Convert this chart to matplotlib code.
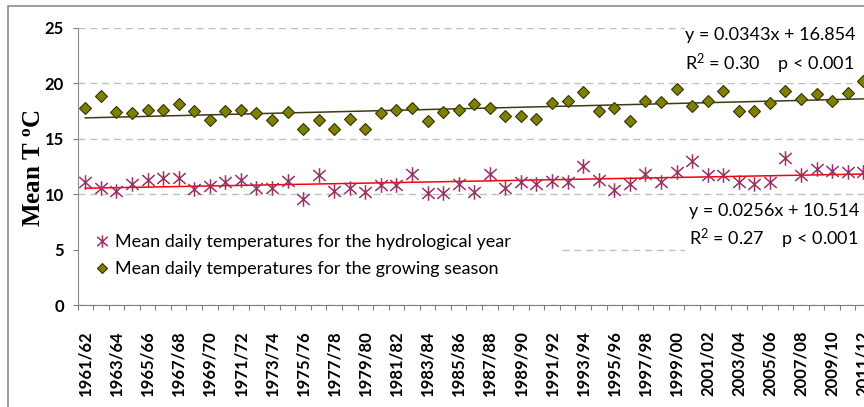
import numpy as np
import matplotlib
matplotlib.use('Agg')
import matplotlib.pyplot as plt
from matplotlib.path import Path
from matplotlib.patches import Rectangle

plt.rcParams['font.family'] = ['Lato', 'DejaVu Sans']
plt.rcParams['mathtext.default'] = 'regular'

# hydrological seasons 1961/62 .. 2011/12
seasons = ['%d/%02d' % (y, (y + 1) % 100) for y in range(1961, 2012)]

hydro_year = [11.1, 10.6, 10.3, 10.9, 11.3, 11.5, 11.5, 10.5, 10.7, 11.1,
              11.3, 10.6, 10.6, 11.2, 9.6, 11.7, 10.3, 10.6, 10.2, 10.8,
              10.8, 11.8, 10.1, 10.1, 10.9, 10.2, 11.8, 10.6, 11.1, 10.9,
              11.2, 11.1, 12.5, 11.3, 10.4, 10.9, 11.8, 11.1, 12.0, 13.0,
              11.7, 11.7, 11.1, 10.9, 11.1, 13.3, 11.7, 12.3, 12.1, 12.0, 12.0]
growing_season = [17.8, 18.9, 17.4, 17.3, 17.6, 17.6, 18.1, 17.5, 16.7, 17.5,
                  17.6, 17.3, 16.7, 17.4, 15.9, 16.7, 15.9, 16.8, 15.9, 17.3,
                  17.6, 17.8, 16.6, 17.4, 17.6, 18.1, 17.8, 17.1, 17.1, 16.8,
                  18.2, 18.4, 19.2, 17.5, 17.8, 16.6, 18.4, 18.3, 19.5, 18.0,
                  18.4, 19.3, 17.5, 17.5, 18.2, 19.3, 18.6, 19.0, 18.4, 19.1, 20.2]

# linear trends (x = 1..n)
hydro_fit = (0.0256, 10.514)
growing_fit = (0.0343, 16.854)
hydro_stats = ('0.27', '0.001')
growing_stats = ('0.30', '0.001')

labels = ['Mean daily temperatures for the hydrological year',
          'Mean daily temperatures for the growing season']

# six-armed asterisk like the spreadsheet "star" marker
star = Path([(0, -1), (0, 1), (-0.85, -0.75), (0.85, 0.75), (-0.85, 0.75), (0.85, -0.75)],
            [Path.MOVETO, Path.LINETO, Path.MOVETO, Path.LINETO, Path.MOVETO, Path.LINETO])

fig = plt.figure(figsize=(8.64, 4.07), dpi=100)
# chart area border (runs off the right and bottom edge)
fig.patches.append(Rectangle((7.5 / 864, -0.1), 1.2, 1.1 - 6.5 / 407, transform=fig.transFigure,
                             fill=False, edgecolor='#8c8c8c', linewidth=1.2, zorder=0))

ax = fig.add_axes([77.5 / 864, 102 / 407, 793.5 / 864, 277 / 407])
x = np.arange(len(seasons))

ax.plot(x, hydro_year, linestyle='none', marker=star, markersize=10.5, markeredgewidth=1.1,
        color='#993366', label=labels[0], zorder=5)
ax.plot(x, growing_season, linestyle='none', marker='D', markersize=6,
        markerfacecolor='#7f7f00', markeredgecolor='#33330a', markeredgewidth=0.8,
        label=labels[1], zorder=5)

xf = x + 1
ax.plot(x, hydro_fit[0] * xf + hydro_fit[1], color='#ff0000', linewidth=1.1, zorder=4)
ax.plot(x, growing_fit[0] * xf + growing_fit[1], color='#3b3b14', linewidth=1.1, zorder=4)

ax.set_xlim(-0.5, len(seasons) - 0.5)
ax.set_ylim(0, 25)
ax.set_yticks([0, 5, 10, 15, 20, 25])
ax.yaxis.grid(True, color='#bfbfbf', linestyle=(0, (5, 3.5)), linewidth=1.0)
ax.set_axisbelow(True)

# ticks between categories, labels on every second category
ax.set_xticks(np.arange(-0.5, len(seasons), 1))
ax.set_xticklabels([])
ax.set_xticks(x[::2], minor=True)
ax.set_xticklabels(seasons[::2], minor=True, rotation=90, fontweight='bold', fontsize=12)
ax.tick_params(axis='x', which='major', direction='out', length=3.8, color='#7f7f7f')
ax.tick_params(axis='x', which='minor', length=0, pad=18)
ax.tick_params(axis='y', direction='out', length=3.8, color='#7f7f7f', pad=6, labelsize=12)
for t in ax.get_yticklabels():
    t.set_fontweight('bold')

for side in ('top', 'right'):
    ax.spines[side].set_visible(False)
ax.spines['left'].set_color('#8c8c8c')
ax.spines['bottom'].set_color('#7f7f7f')

fig.text(33 / 864, 1 - 168 / 407, 'Mean T $^{o}$C', rotation=90, ha='center', va='center',
         family=['Liberation Serif'], fontweight='bold', fontsize=18)

# white boxes behind legend and trend labels hide the gridlines
ax.add_patch(Rectangle((0.0, 0.04), 0.605, 0.33, transform=ax.transAxes,
                       facecolor='white', edgecolor='none', zorder=1))
ax.add_patch(Rectangle((0.765, 0.8), 0.3, 0.23, transform=ax.transAxes,
                       facecolor='white', edgecolor='none', zorder=1, clip_on=False))
ax.add_patch(Rectangle((0.765, 0.17), 0.3, 0.2, transform=ax.transAxes,
                       facecolor='white', edgecolor='none', zorder=1))

leg = ax.legend(loc='lower left', bbox_to_anchor=(0.003, 0.048), frameon=False, fontsize=13,
                handlelength=0.8, handletextpad=0.35, labelspacing=0.62, borderpad=0.3,
                markerscale=0.85)
leg.set_zorder(6)

ax.text(0.766, 0.975, 'y = %.4fx + %.3f' % growing_fit, transform=ax.transAxes,
        fontsize=13, va='center', zorder=3)
ax.text(0.766, 0.87, 'R$^2$ = %s    p < %s' % growing_stats, transform=ax.transAxes,
        fontsize=13, va='center', zorder=3)
ax.text(0.771, 0.339, 'y = %.4fx + %.3f' % hydro_fit, transform=ax.transAxes,
        fontsize=13, va='center', zorder=3)
ax.text(0.771, 0.238, 'R$^2$ = %s    p < %s' % hydro_stats, transform=ax.transAxes,
        fontsize=13, va='center', zorder=3)

fig.savefig('out.png', dpi=100)
